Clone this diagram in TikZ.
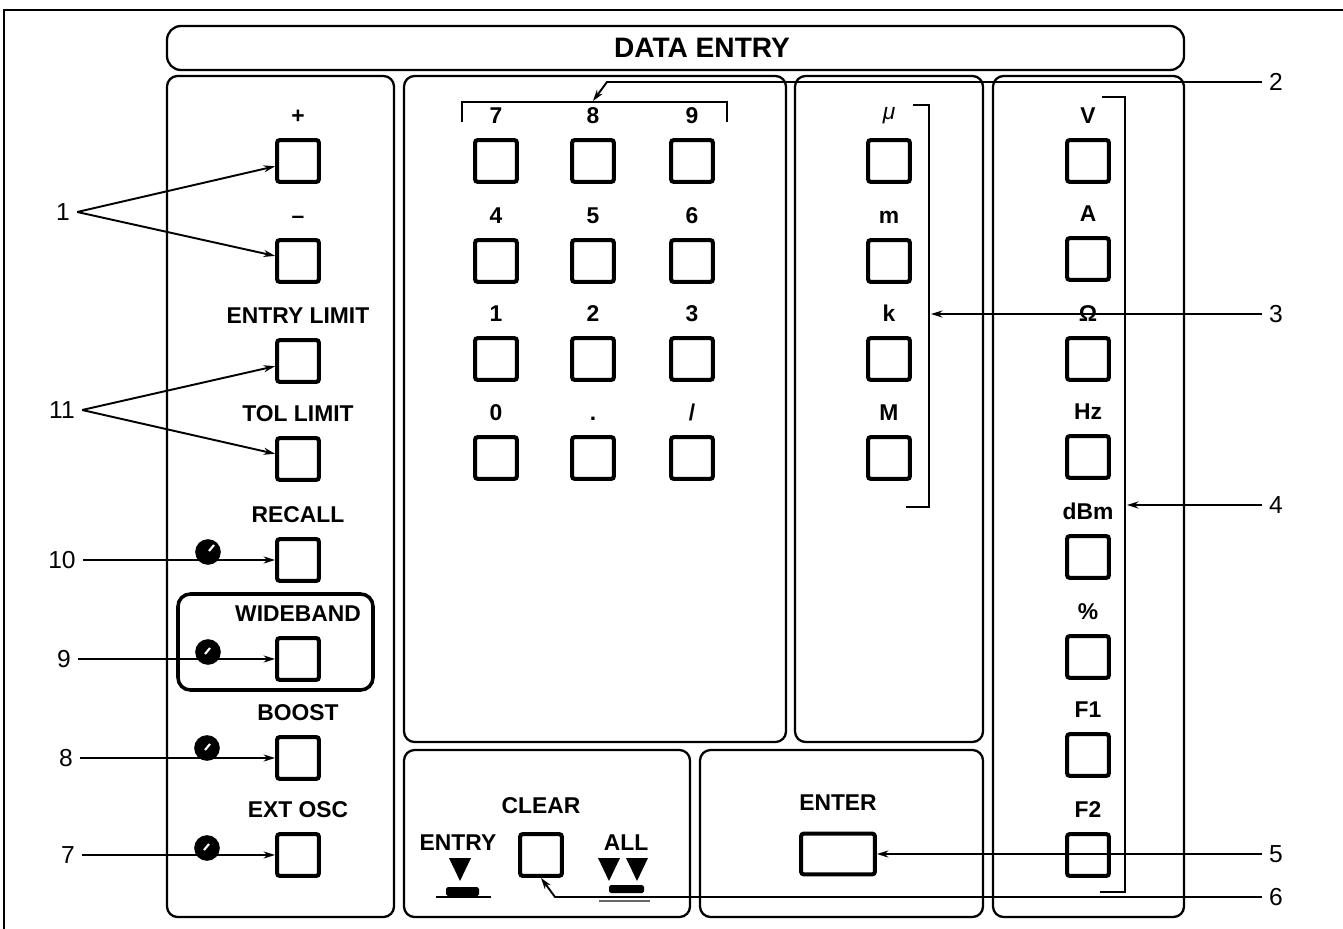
\documentclass[tikz,border=0pt]{standalone}
\usepackage{fontspec}
\setmainfont{Liberation Sans}
\usetikzlibrary{arrows.meta, positioning}
\tikzstyle{tecla} = [rectangle, draw=black, line width=2.3pt, rounded corners=1.5pt, minimum size=23.8pt, inner sep=0pt]
\tikzstyle{etiqueta} = [inner sep=0pt, font={\fontsize{13}{15}\selectfont\bfseries}]
\tikzstyle{llamada} = [inner sep=4pt, font={\fontsize{14}{16}\selectfont}]
\tikzstyle{panel} = [draw=black, line width=1.3pt, rounded corners=6pt]
\tikzstyle{flecha} = [line width=1.1pt,-{Stealth[length=6.5pt,width=4pt]}]
\tikzstyle{corchete} = [line width=0.8pt]
\tikzstyle{led} = [fill=black]
\begin{document}
\begin{tikzpicture}[x=0.02cm, y=-0.02cm]
        \useasboundingbox [fill=white] (0,0) rectangle (1343,929);

        % Marco y paneles
        \draw [line width=1.6pt] (4,929) -- (4,10) -- (1343,10);
        \draw [panel, rounded corners=8pt] (167,26) rectangle (1184,70);
        \draw [panel] (167,76) rectangle (394,917);
        \draw [panel] (404,76) rectangle (786,742);
        \draw [panel] (795,76) rectangle (983,742);
        \draw [panel] (993,76) rectangle (1184,917);
        \draw [panel] (404,750) rectangle (690,917);
        \draw [panel] (700,750) rectangle (983,917);
        \draw [panel, line width=2pt, rounded corners=7pt] (178,594) rectangle (373,690);
        \node (titulo) [font={\fontsize{16}{18}\selectfont\bfseries}] at (702,48) {DATA ENTRY};

        % Primera columna
        \node (kmas) [tecla] at (298,161) {};
        \node (tmas) [etiqueta, above=8pt of kmas] {+};
        \node (kmenos) [tecla] at (298,261) {};
        \node (tmenos) [etiqueta, above=8pt of kmenos] {\textendash};
        \node (kentry) [tecla] at (298,361) {};
        \node (tentry) [etiqueta, above=8pt of kentry] {ENTRY LIMIT};
        \node (ktol) [tecla] at (298,459) {};
        \node (ttol) [etiqueta, above=8pt of ktol] {TOL LIMIT};
        \node (krecall) [tecla] at (298,560) {};
        \node (trecall) [etiqueta, above=8pt of krecall] {RECALL};
        \node (kwide) [tecla] at (298,659) {};
        \node (twide) [etiqueta, above=8pt of kwide] {WIDEBAND};
        \node (kboost) [tecla] at (298,758) {};
        \node (tboost) [etiqueta, above=8pt of kboost] {BOOST};
        \node (kosc) [tecla] at (298,855) {};
        \node (tosc) [etiqueta, above=8pt of kosc] {EXT OSC};

        % Indicadores
        \fill [led] (208,552) circle [radius=7.3pt];
        \fill [led] (208,652) circle [radius=7.3pt];
        \fill [led] (207,748) circle [radius=7.3pt];
        \fill [led] (207,848) circle [radius=7.3pt];
        \draw [white, line width=1.2pt] (209,551) -- (214,545);
        \draw [white, line width=1.2pt] (205,654) -- (210,648);
        \draw [white, line width=1.2pt] (205,750) -- (210,744);
        \draw [white, line width=1.2pt] (204,850) -- (209,844);

        % Teclado numerico
        \node (k7) [tecla] at (496,161) {};
        \node (t7) [etiqueta, above=8pt of k7] {7};
        \node (k8) [tecla] at (593,161) {};
        \node (t8) [etiqueta, above=8pt of k8] {8};
        \node (k9) [tecla] at (692,161) {};
        \node (t9) [etiqueta, above=8pt of k9] {9};
        \node (k4) [tecla] at (496,261) {};
        \node (t4) [etiqueta, above=8pt of k4] {4};
        \node (k5) [tecla] at (593,261) {};
        \node (t5) [etiqueta, above=8pt of k5] {5};
        \node (k6) [tecla] at (692,261) {};
        \node (t6) [etiqueta, above=8pt of k6] {6};
        \node (k1) [tecla] at (496,359) {};
        \node (t1) [etiqueta, above=8pt of k1] {1};
        \node (k2) [tecla] at (593,359) {};
        \node (t2) [etiqueta, above=8pt of k2] {2};
        \node (k3) [tecla] at (692,359) {};
        \node (t3) [etiqueta, above=8pt of k3] {3};
        \node (k0) [tecla] at (496,458) {};
        \node (t0) [etiqueta, above=8pt of k0] {0};
        \node (kpunto) [tecla] at (593,458) {};
        \node (tpunto) [etiqueta, above=8pt of kpunto] {.};
        \node (kbarra) [tecla] at (692,458) {};
        \node (tbarra) [etiqueta, above=8pt of kbarra] {/};
        \draw [corchete] (462,122) -- (462,102) -- (727,102) -- (727,122);

        % Multiplicadores
        \node (kmicro) [tecla] at (889,161) {};
        \node (tmicro) [etiqueta, above=8pt of kmicro] {\normalfont\itshape μ};
        \node (kmili) [tecla] at (889,261) {};
        \node (tmili) [etiqueta, above=8pt of kmili] {m};
        \node (kkilo) [tecla] at (889,359) {};
        \node (tkilo) [etiqueta, above=8pt of kkilo] {k};
        \node (kmega) [tecla] at (889,458) {};
        \node (tmega) [etiqueta, above=8pt of kmega] {M};
        \draw [corchete] (913,105) -- (929,105) -- (929,507) -- (906,507);

        % Unidades
        \node (kv) [tecla] at (1088,161) {};
        \node (tv) [etiqueta, above=8pt of kv] {V};
        \node (ka) [tecla] at (1088,259) {};
        \node (ta) [etiqueta, above=8pt of ka] {A};
        \node (kohm) [tecla] at (1088,359) {};
        \node (tohm) [etiqueta, above=8pt of kohm] {Ω};
        \node (khz) [tecla] at (1088,457) {};
        \node (thz) [etiqueta, above=8pt of khz] {Hz};
        \node (kdbm) [tecla] at (1088,557) {};
        \node (tdbm) [etiqueta, above=8pt of kdbm] {dBm};
        \node (kpct) [tecla] at (1088,657) {};
        \node (tpct) [etiqueta, above=8pt of kpct] {\%};
        \node (kf1) [tecla] at (1088,755) {};
        \node (tf1) [etiqueta, above=8pt of kf1] {F1};
        \node (kf2) [tecla] at (1088,855) {};
        \node (tf2) [etiqueta, above=8pt of kf2] {F2};
        \draw [corchete] (1102,97) -- (1125,97) -- (1125,892) -- (1100,892);

        % Borrar e introducir
        \node (kclear) [tecla] at (541,855) {};
        \node (tclear) [etiqueta, above=10pt of kclear] {CLEAR};
        \node (tentrada) [etiqueta] at (458,843) {ENTRY};
        \node (ttodo) [etiqueta] at (626,843) {ALL};
        \fill (449,858) -- (471,858) -- (460,881) -- cycle;
        \fill (598,858) -- (620,858) -- (609,881) -- cycle;
        \fill (626,858) -- (648,858) -- (637,881) -- cycle;
        \fill [rounded corners=1pt] (446,887) rectangle (479,896);
        \fill [rounded corners=1pt] (609,885) rectangle (644,893);
        \draw [line width=1pt] (436,897) -- (491,897);
        \draw [line width=0.6pt, black!60] (599,901) -- (650,901);
        \node (kenter) [tecla, minimum width=42pt, minimum height=23.2pt] at (838,854) {};
        \node (tenter) [etiqueta, above=12pt of kenter] {ENTER};

        % Llamadas izquierda
        \node (c1) [llamada] at (63,212) {1};
        \node (c11) [llamada] at (62,410) {11};
        \node (c10) [llamada] at (62,560) {10};
        \node (c9) [llamada] at (64,659) {9};
        \node (c8) [llamada] at (66,758) {8};
        \node (c7) [llamada] at (68,855) {7};
        \draw [flecha] (c1.east) -- (kmas);
        \draw [flecha] (c1.east) -- (kmenos);
        \draw [flecha] (c11.east) -- (kentry);
        \draw [flecha] (c11.east) -- (ktol);
        \draw [flecha] (c10) -- (krecall);
        \draw [flecha] (c9) -- (kwide);
        \draw [flecha] (c8) -- (kboost);
        \draw [flecha] (c7) -- (kosc);

        % Llamadas derecha
        \node (c2) [llamada] at (1276,82) {2};
        \node (c3) [llamada] at (1276,314) {3};
        \node (c4) [llamada] at (1276,505) {4};
        \node (c5) [llamada] at (1276,854) {5};
        \node (c6) [llamada] at (1276,897) {6};
        \coordinate (q2) at (607,82);
        \coordinate (b2) at (593,101);
        \coordinate (b3) at (931,314);
        \coordinate (b4) at (1127,505);
        \coordinate (q6) at (555,897);
        \draw [flecha] (c2.west) -- (q2) -- (b2);
        \draw [flecha] (c3.west) -- (b3);
        \draw [flecha] (c4.west) -- (b4);
        \draw [flecha] (c5.west) -- (kenter.east);
        \draw [flecha] (c6.west) -- (q6) -- (kclear.south);

\end{tikzpicture}
\end{document}
